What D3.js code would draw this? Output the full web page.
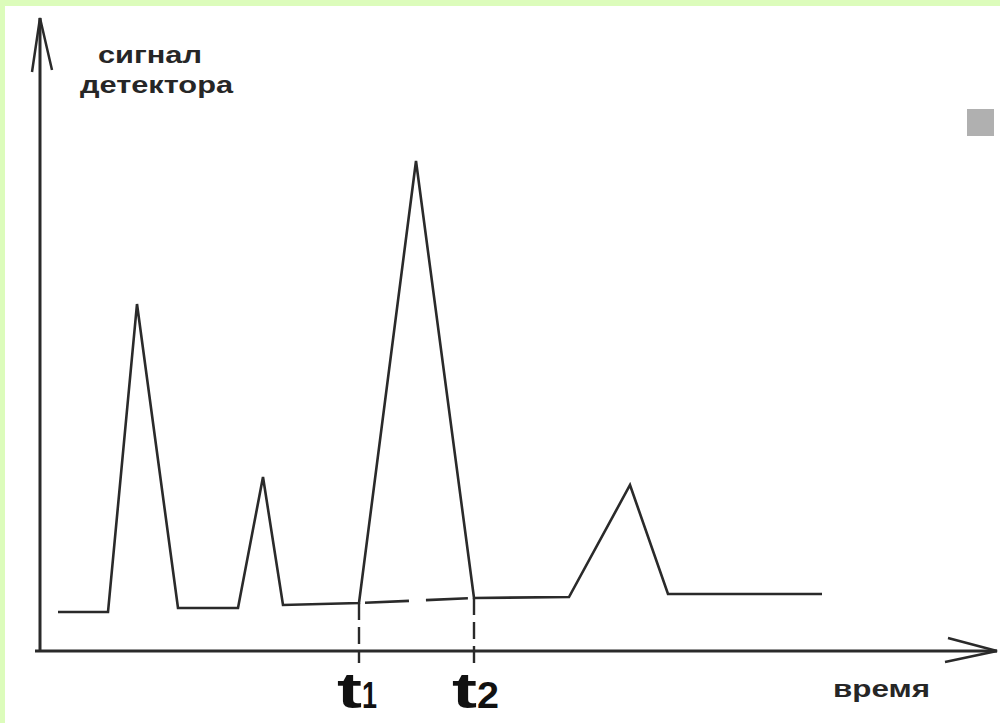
<!DOCTYPE html>
<html>
<head>
<meta charset="utf-8">
<script src="https://cdn.jsdelivr.net/npm/d3@7"></script>
<style>
  html, body { margin: 0; padding: 0; background: #fff; }
  svg { display: block; }
</style>
</head>
<body>
<div id="chart"></div>
<script>
// chromatogram sketch: detector signal over time (arbitrary units)
const time   = [18, 68, 97, 138, 198, 223, 243, 319, 376, 434, 529, 590, 628, 782];
const signal = [38, 38, 346, 42, 42, 173, 45, 47, 489, 52, 53, 165, 56, 56];

// retention markers and their labels
const markTimes  = [319, 434];
const markSignal = [47, 52];
const markLabels = ["1", "2"];

const yLabel = ["сигнал", "детектора"];
const xLabel = "время";

const svg_width = 1000, svg_height = 723;

const svg = d3.select('#chart')
    .append('svg')
    .attr('width', svg_width)
    .attr('height', svg_height);

// light green frame on top and left
svg.append('rect').attr('x', 0).attr('y', 0).attr('width', svg_width).attr('height', 6).attr('fill', '#dcfcbb');
svg.append('rect').attr('x', 0).attr('y', 0).attr('width', 5).attr('height', svg_height).attr('fill', '#dcfcbb');

const x = d3.scaleLinear().domain([0, 950]).range([40, 990]);
const y = d3.scaleLinear().domain([0, 632]).range([650, 18]);

const ink = '#2a2a2a';
const chart = svg.append('g');

// axes with open arrow heads
const x0 = x(0), y0 = y(0);
chart.append('line')
    .attr('x1', x0).attr('y1', y0).attr('x2', x0).attr('y2', y.range()[1])
    .attr('stroke', ink).attr('stroke-width', 3);
chart.append('path')
    .attr('d', `M${x0 - 8},${y.range()[1] + 54} L${x0},${y.range()[1]} L${x0 + 12},${y.range()[1] + 52}`)
    .attr('fill', 'none').attr('stroke', ink).attr('stroke-width', 2.5);

const xEnd = 997;
chart.append('line')
    .attr('x1', x0 - 5).attr('y1', y0 + 1).attr('x2', xEnd).attr('y2', y0 + 1)
    .attr('stroke', ink).attr('stroke-width', 3);
chart.append('path')
    .attr('d', `M948,${y0 - 12} L${xEnd},${y0 + 1} L945,${y0 + 12}`)
    .attr('fill', 'none').attr('stroke', ink).attr('stroke-width', 2.5);

// signal trace
const pts = time.map((t, i) => [t, signal[i]]);
const line = d3.line().x(d => x(d[0])).y(d => y(d[1]));
chart.append('path')
    .datum(pts)
    .attr('d', line)
    .attr('fill', 'none')
    .attr('stroke', ink)
    .attr('stroke-width', 2.6)
    .attr('stroke-linejoin', 'miter');

// interpolated baseline under the big peak (broken)
chart.append('line')
    .attr('x1', x(markTimes[0])).attr('y1', y(markSignal[0]))
    .attr('x2', x(markTimes[1])).attr('y2', y(markSignal[1]))
    .attr('stroke', ink).attr('stroke-width', 2.6)
    .attr('stroke-dasharray', '0,6,44,17,42,6');

// dashed drop lines at t1, t2
chart.selectAll('line.drop')
    .data(markTimes)
    .join('line')
    .classed('drop', true)
    .attr('x1', d => x(d)).attr('x2', d => x(d))
    .attr('y1', (d, i) => y(markSignal[i]))
    .attr('y2', y0 + 13)
    .attr('stroke', ink).attr('stroke-width', 2.4)
    .attr('stroke-dasharray', '17,7');

// t labels with subscripts
const tl = chart.selectAll('g.tlab')
    .data(markTimes)
    .join('g')
    .classed('tlab', true);
tl.append('text')
    .attr('x', d => x(d) - 22).attr('y', 708)
    .attr('font-family', 'Liberation Sans, Arial, sans-serif')
    .attr('font-weight', 'bold').attr('font-size', 50)
    .attr('textLength', 25).attr('lengthAdjust', 'spacingAndGlyphs')
    .attr('fill', '#111')
    .text('t');
tl.append('text')
    .attr('x', d => x(d) + 3).attr('y', 708)
    .attr('font-family', 'Liberation Sans, Arial, sans-serif')
    .attr('font-weight', 'bold').attr('font-size', 36)
    .attr('textLength', (d, i) => i === 0 ? 15 : 22).attr('lengthAdjust', 'spacingAndGlyphs')
    .attr('fill', '#111')
    .text((d, i) => markLabels[i]);

// axis titles
const lab = chart.append('g')
    .attr('font-family', 'Liberation Sans, Arial, sans-serif')
    .attr('font-weight', 'bold')
    .attr('font-size', 23)
    .attr('fill', '#262626');
lab.append('text').attr('x', 98).attr('y', 63)
    .attr('textLength', 104).attr('lengthAdjust', 'spacingAndGlyphs').text(yLabel[0]);
lab.append('text').attr('x', 80).attr('y', 93)
    .attr('textLength', 153).attr('lengthAdjust', 'spacingAndGlyphs').text(yLabel[1]);
lab.append('text').attr('x', 833).attr('y', 697)
    .attr('textLength', 97).attr('lengthAdjust', 'spacingAndGlyphs').text(xLabel);

// grey marker square at upper right
svg.append('rect')
    .attr('x', 967).attr('y', 109).attr('width', 27).attr('height', 27)
    .attr('fill', '#b0b0b0');
</script>
</body>
</html>
